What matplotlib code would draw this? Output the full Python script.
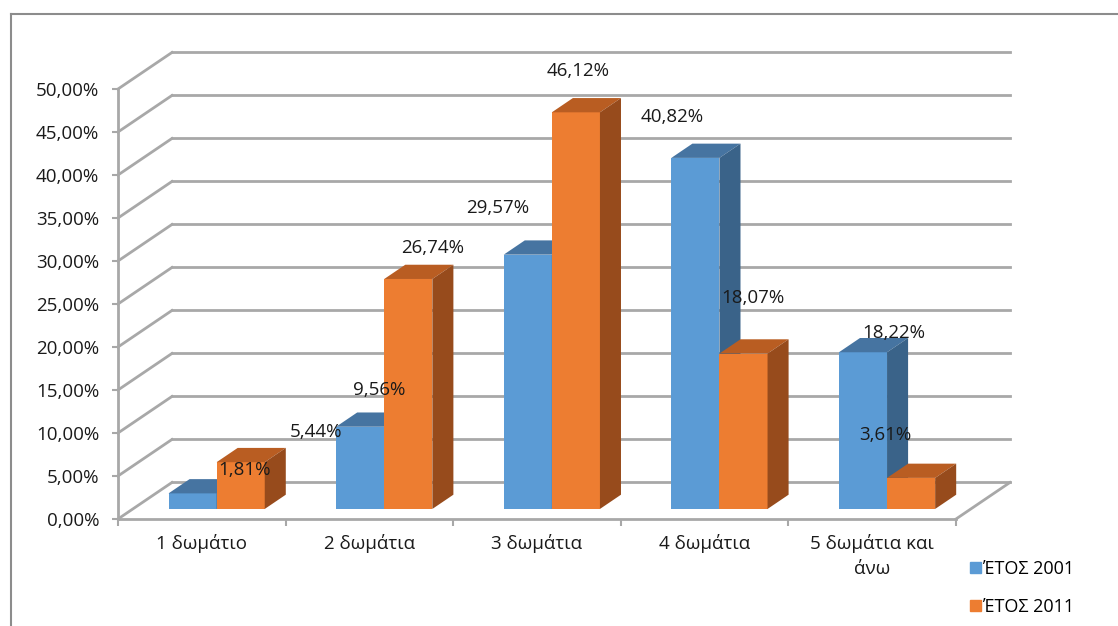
import numpy as np
import matplotlib
matplotlib.use('Agg')
import matplotlib.pyplot as plt
from matplotlib.patches import Polygon, Patch
from matplotlib.lines import Line2D
from matplotlib.ticker import FuncFormatter

# Data
categories = ['1 δωμάτιο', '2 δωμάτια', '3 δωμάτια', '4 δωμάτια', '5 δωμάτια και\nάνω']
series_names = ['ΈΤΟΣ 2001', 'ΈΤΟΣ 2011']
values_2001 = [1.81, 9.56, 29.57, 40.82, 18.22]
values_2011 = [5.44, 26.74, 46.12, 18.07, 3.61]
y_ticks = [0, 5, 10, 15, 20, 25, 30, 35, 40, 45, 50]

# Label offsets (pixels) from the top of each bar, as excel put them
label_off_2001 = [(52, 23), (19, 37), (-30, 47), (-23, 41), (31, 19)]
label_off_2011 = [(75, 30), (24, 31), (2, 41), (9, 56), (-26, 43)]

# Style
plt.rcParams['font.family'] = ['Open Sans', 'DejaVu Sans']
FS = 13.5
GRID_C = '#a8a8a8'
face_cols = [('#5b9bd5', '#4674a1', '#3a6389'), ('#ed7d31', '#b95d22', '#974b1c')]

# 3d fake geometry (data units)
DX, DY = 0.322, 4.25          # full depth offset of back wall
F0, F1 = 0.275, 0.665         # bar front/back depth fractions
BW = 0.287                     # bar width

W, H = 1118, 626
fig = plt.figure(figsize=(W / 100, H / 100), dpi=100)
ax = fig.add_axes([118 / W, (H - 519) / H, 838 / W, 430 / H])
ax.set_xlim(-0.5, 4.5)
ax.set_ylim(0, 50)
ax.patch.set_visible(False)

# Back wall gridlines + left wall diagonals
for v in y_ticks:
	ax.plot([-0.5 + DX, 4.5 + DX], [v + DY, v + DY], color=GRID_C, lw=2, clip_on=False, zorder=1)
	ax.plot([-0.5, -0.5 + DX], [v, v + DY], color=GRID_C, lw=2, clip_on=False, zorder=1)
# floor right edge
ax.plot([4.5, 4.5 + DX], [0, DY], color=GRID_C, lw=2, clip_on=False, zorder=1)

# Bars
x = np.arange(len(categories))
for s, vals in enumerate([values_2001, values_2011]):
	front, top, side = face_cols[s]
	x0s = x + F0 * DX - BW + s * BW
	ax.bar(x0s, vals, width=BW, bottom=F0 * DY, align='edge', color=front,
		   linewidth=0, zorder=3 + s, clip_on=False)
	for x0, v in zip(x0s, vals):
		x1 = x0 + BW
		b0, b1 = F0 * DY, F1 * DY
		d = (F1 - F0) * DX
		ax.add_patch(Polygon([(x0, v + b0), (x1, v + b0), (x1 + d, v + b1), (x0 + d, v + b1)],
							 closed=True, color=top, lw=0, zorder=3 + s, clip_on=False))
		ax.add_patch(Polygon([(x1, b0), (x1, v + b0), (x1 + d, v + b1), (x1 + d, b1)],
							 closed=True, color=side, lw=0, zorder=3 + s, clip_on=False))

# Data labels
for s, (vals, offs) in enumerate([(values_2001, label_off_2001), (values_2011, label_off_2011)]):
	for i, (v, off) in enumerate(zip(vals, offs)):
		xc = i + F0 * DX - BW / 2 + s * BW
		ax.annotate(f'{v:.2f}%'.replace('.', ','), (xc, v + F0 * DY), xytext=off,
					textcoords='offset pixels', ha='center', va='center', fontsize=FS,
					color='#1a1a1a', zorder=10, annotation_clip=False)

# Axes styling
for sp in ['top', 'right']:
	ax.spines[sp].set_visible(False)
for sp in ['left', 'bottom']:
	ax.spines[sp].set_color(GRID_C)
	ax.spines[sp].set_linewidth(2)
ax.set_yticks(y_ticks)
ax.yaxis.set_major_formatter(FuncFormatter(lambda v, p: f'{v:.2f}%'.replace('.', ',')))
ax.tick_params(axis='y', length=4.5, width=1.5, color=GRID_C, pad=9, labelsize=FS, labelcolor='#1a1a1a')
ax.set_xticks(x)
ax.set_xticklabels(categories, linespacing=1.45)
ax.set_xticks(np.arange(-0.5, 5, 1), minor=True)
ax.tick_params(axis='x', which='major', length=0, pad=11, labelsize=FS, labelcolor='#1a1a1a')
ax.tick_params(axis='x', which='minor', length=5, width=1.5, color=GRID_C)

# Legend
handles = [Patch(color=face_cols[0][0]), Patch(color=face_cols[1][0])]
fig.legend(handles, series_names, loc='center left', bbox_to_anchor=(970 / W, 1 - 588 / H),
		   frameon=False, fontsize=FS - 0.5, handlelength=0.6, handleheight=0.6,
		   handletextpad=0.1, labelspacing=1.1, borderpad=0, borderaxespad=0)

# Outer chart border (cut at right/bottom)
fig.add_artist(Line2D([11 / W, 1], [1 - 14 / H, 1 - 14 / H], color='#8c8c8c', lw=1.5))
fig.add_artist(Line2D([11 / W, 11 / W], [0, 1 - 14 / H], color='#8c8c8c', lw=1.5))

fig.savefig('out.png', dpi=100)
